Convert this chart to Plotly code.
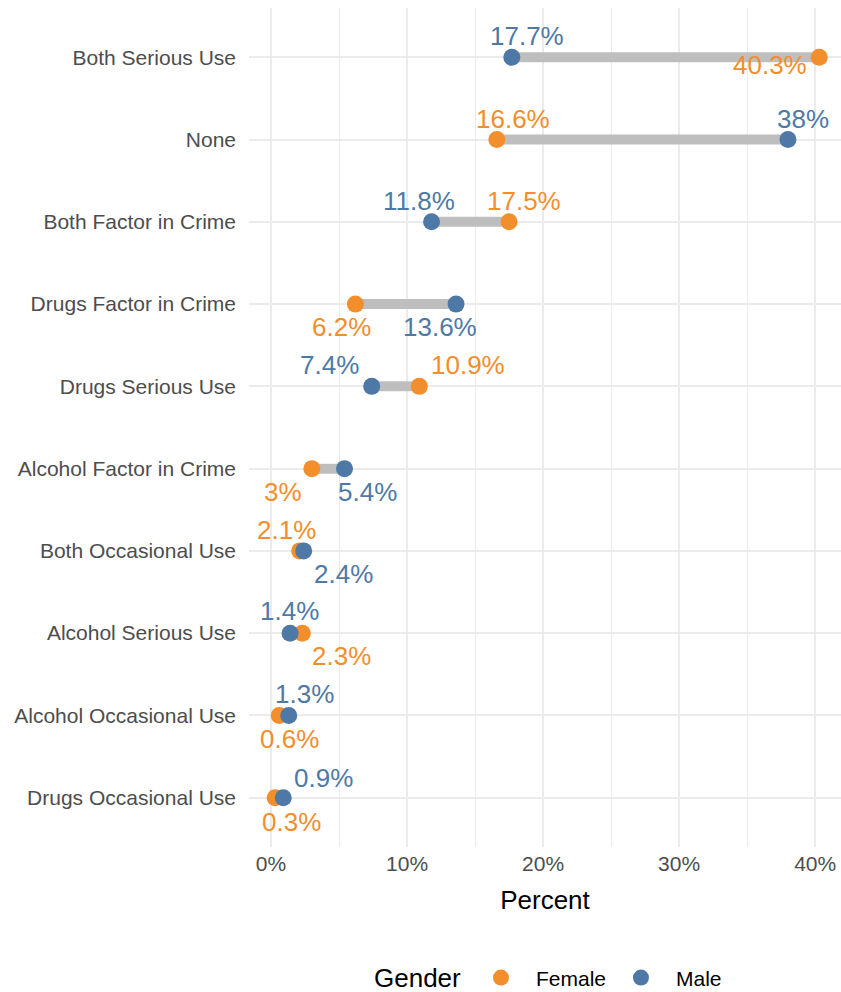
import plotly.graph_objects as go

FONT = "Liberation Sans, Arial, sans-serif"
ORANGE = "#F28E2B"
BLUE = "#4E79A7"

# categories listed top to bottom as in the chart
categories = ["Both Serious Use", "None", "Both Factor in Crime",
              "Drugs Factor in Crime", "Drugs Serious Use",
              "Alcohol Factor in Crime", "Both Occasional Use",
              "Alcohol Serious Use", "Alcohol Occasional Use",
              "Drugs Occasional Use"]
female = [40.3, 16.6, 17.5, 6.2, 10.9, 3, 2.1, 2.3, 0.6, 0.3]
male = [17.7, 38, 11.8, 13.6, 7.4, 5.4, 2.4, 1.4, 1.3, 0.9]

# label offsets in pixels (repel-style placement from the original)
female_dx = [-49, 16, 15, -14, 49, -29, -13, 39, 10, 16]
female_dy = [8, -21, -21, 23, -21, 23, -21, 23, 24, 24]
male_dx = [15, 15, -13, -16, -42, 23, 40, -1, 16, 40]
male_dy = [-21, -21, -21, 23, -21, 23, 23, -22, -21, -20]


def fmt(v):
    return "{:g}%".format(v)


fig = go.Figure()

seg_x, seg_y = [], []
for cat, f, m in zip(categories, female, male):
    seg_x += [f, m, None]
    seg_y += [cat, cat, None]

fig.add_trace(go.Scatter(x=seg_x, y=seg_y, mode="lines",
                         line=dict(color="#BEBEBE", width=10),
                         showlegend=False, hoverinfo="skip"))
fig.add_trace(go.Scatter(x=female, y=categories, mode="markers",
                         name="Female",
                         marker=dict(color=ORANGE, size=17)))
fig.add_trace(go.Scatter(x=male, y=categories, mode="markers",
                         name="Male",
                         marker=dict(color=BLUE, size=17)))

annotations = []
for vals, dxs, dys, col in [(female, female_dx, female_dy, ORANGE),
                            (male, male_dx, male_dy, BLUE)]:
    for cat, v, dx, dy in zip(categories, vals, dxs, dys):
        annotations.append(dict(x=v, y=cat, text=fmt(v), showarrow=False,
                                xshift=dx, yshift=-dy,
                                font=dict(family=FONT, size=26, color=col)))

# legend title drawn as a plain annotation so it lines up with the keys
annotations.append(dict(text="Gender", xref="paper", yref="paper",
                        x=0.3615, y=-0.1561, xanchor="right",
                        yanchor="middle", showarrow=False,
                        font=dict(family=FONT, size=26, color="black")))

fig.update_layout(
    width=841, height=992,
    margin=dict(l=249, r=0, t=8, b=145, autoexpand=False),
    plot_bgcolor="white", paper_bgcolor="white",
    font=dict(family=FONT),
    annotations=annotations,
    legend=dict(orientation="h", x=0.3665, xanchor="left",
                y=-0.1561, yanchor="middle", itemwidth=60,
                entrywidth=65,
                font=dict(size=21, color="black")),
)

fig.update_xaxes(range=[-1.62, 41.9], dtick=10, ticksuffix="%",
                 showgrid=True, gridcolor="#EBEBEB", gridwidth=2,
                 minor=dict(dtick=5, showgrid=True, gridcolor="#EBEBEB",
                            gridwidth=1),
                 zeroline=False, showline=False,
                 ticklabelstandoff=2,
                 tickfont=dict(size=21, color="#4D4D4D"),
                 title=dict(text="Percent", standoff=16,
                            font=dict(size=26, color="black")))
fig.update_yaxes(type="category", categoryorder="array",
                 categoryarray=categories, range=[9.6, -0.6],
                 showgrid=True, gridcolor="#EBEBEB", gridwidth=2,
                 zeroline=False, showline=False,
                 ticklabelstandoff=12,
                 tickfont=dict(size=21, color="#4D4D4D"))

fig.write_html("out.html",
               config={"displayModeBar": False, "responsive": False},
               post_script="document.body.style.margin='0';")
